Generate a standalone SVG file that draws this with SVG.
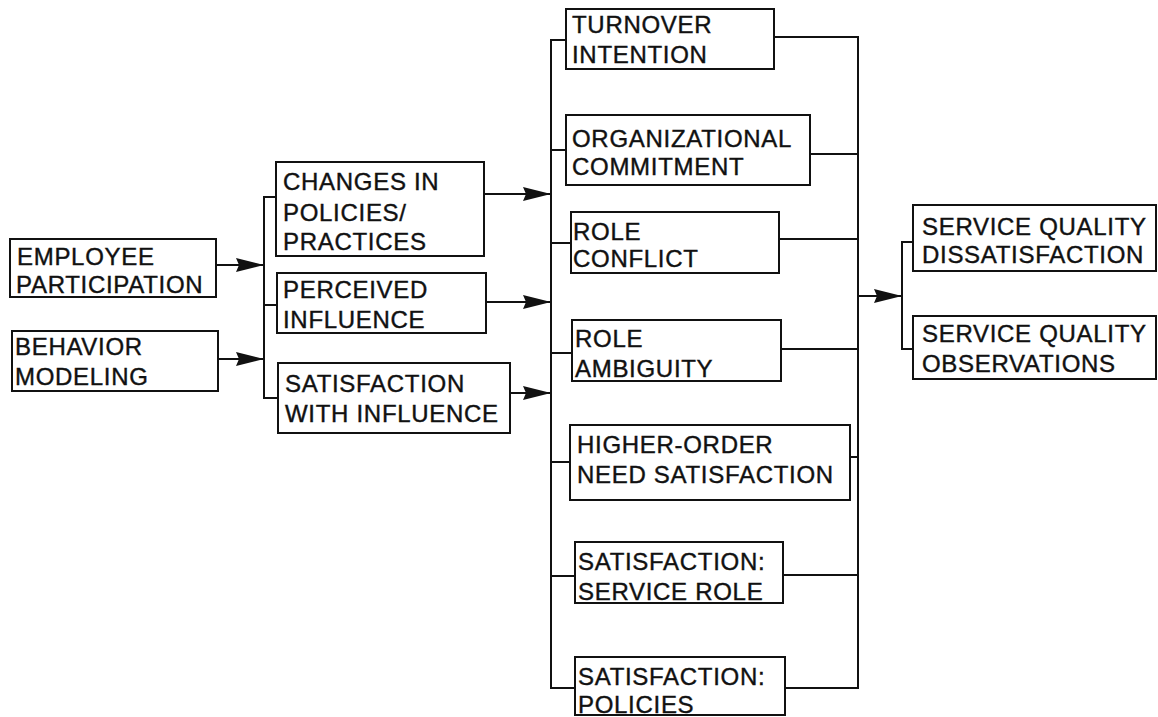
<svg xmlns="http://www.w3.org/2000/svg" width="1158" height="717" viewBox="0 0 1158 717">
<style>
  rect.box { fill: #fff; stroke: #111; stroke-width: 2; }
  text { font-family: "Liberation Sans", Arial, sans-serif; font-size: 24px; letter-spacing: 0.7px; fill: #111; stroke: #111; stroke-width: 0.4px; }
  .conn line, .conn path { stroke: #111; stroke-width: 2; fill: none; }
</style>
<defs>
  <marker id="arr" markerUnits="userSpaceOnUse" markerWidth="30" markerHeight="16" refX="28" refY="7" orient="auto">
    <path d="M0,0 L28,7 L0,14 L3,7 z" fill="#111"/>
  </marker>
</defs>
<rect width="1158" height="717" fill="#fff"/>

<g class="conn" id="connectors">
  <line x1="216" y1="265" x2="264" y2="265" marker-end="url(#arr)"/>
  <line x1="218" y1="359" x2="264" y2="359" marker-end="url(#arr)"/>
  <path d="M276,197 H264 V398 H278 M264,305 H277"/>
  <line x1="484" y1="194" x2="551" y2="194" marker-end="url(#arr)"/>
  <line x1="486" y1="302" x2="551" y2="302" marker-end="url(#arr)"/>
  <line x1="510" y1="393" x2="551" y2="393" marker-end="url(#arr)"/>
  <path d="M566,40 H551 V688 H575 M551,150 H566 M551,243 H571 M551,353 H572 M551,462 H570 M551,576 H575"/>
  <path d="M774,37 H858 V688 H785 M810,154 H858 M779,239 H858 M781,349 H858 M850,457 H858 M783,575 H858"/>
  <line x1="858" y1="296" x2="902" y2="296" marker-end="url(#arr)"/>
  <path d="M913,242 H902 V349 H913"/>
</g>

<g id="employee-participation">
  <rect class="box" x="10" y="239" width="206" height="58"/>
  <text x="17" y="265">EMPLOYEE</text>
  <text x="16" y="293">PARTICIPATION</text>
</g>
<g id="behavior-modeling">
  <rect class="box" x="12" y="331" width="206" height="60"/>
  <text x="15" y="355">BEHAVIOR</text>
  <text x="15" y="385">MODELING</text>
</g>
<g id="changes-in-policies">
  <rect class="box" x="276" y="162" width="208" height="94"/>
  <text x="283" y="190">CHANGES IN</text>
  <text x="283" y="221">POLICIES/</text>
  <text x="283" y="250">PRACTICES</text>
</g>
<g id="perceived-influence">
  <rect class="box" x="277" y="273" width="209" height="60"/>
  <text x="283" y="298">PERCEIVED</text>
  <text x="283" y="328">INFLUENCE</text>
</g>
<g id="satisfaction-with-influence">
  <rect class="box" x="278" y="363" width="232" height="70"/>
  <text x="285" y="392">SATISFACTION</text>
  <text x="285" y="422">WITH INFLUENCE</text>
</g>
<g id="turnover-intention">
  <rect class="box" x="566" y="9" width="208" height="60"/>
  <text x="572" y="33">TURNOVER</text>
  <text x="572" y="63">INTENTION</text>
</g>
<g id="organizational-commitment">
  <rect class="box" x="566" y="115" width="244" height="70"/>
  <text x="572" y="147">ORGANIZATIONAL</text>
  <text x="572" y="175">COMMITMENT</text>
</g>
<g id="role-conflict">
  <rect class="box" x="571" y="212" width="208" height="61"/>
  <text x="573" y="240">ROLE</text>
  <text x="573" y="267">CONFLICT</text>
</g>
<g id="role-ambiguity">
  <rect class="box" x="572" y="320" width="209" height="61"/>
  <text x="575" y="347">ROLE</text>
  <text x="575" y="377">AMBIGUITY</text>
</g>
<g id="higher-order-need-satisfaction">
  <rect class="box" x="570" y="425" width="280" height="75"/>
  <text x="577" y="453">HIGHER-ORDER</text>
  <text x="577" y="483">NEED SATISFACTION</text>
</g>
<g id="satisfaction-service-role">
  <rect class="box" x="575" y="542" width="208" height="61"/>
  <text x="578" y="570">SATISFACTION:</text>
  <text x="578" y="600">SERVICE ROLE</text>
</g>
<g id="satisfaction-policies">
  <rect class="box" x="575" y="657" width="210" height="58"/>
  <text x="578" y="685">SATISFACTION:</text>
  <text x="578" y="713">POLICIES</text>
</g>
<g id="service-quality-dissatisfaction">
  <rect class="box" x="913" y="205" width="243" height="66"/>
  <text x="922" y="235">SERVICE QUALITY</text>
  <text x="922" y="263">DISSATISFACTION</text>
</g>
<g id="service-quality-observations">
  <rect class="box" x="913" y="316" width="243" height="63"/>
  <text x="922" y="342">SERVICE QUALITY</text>
  <text x="922" y="372">OBSERVATIONS</text>
</g>
</svg>
